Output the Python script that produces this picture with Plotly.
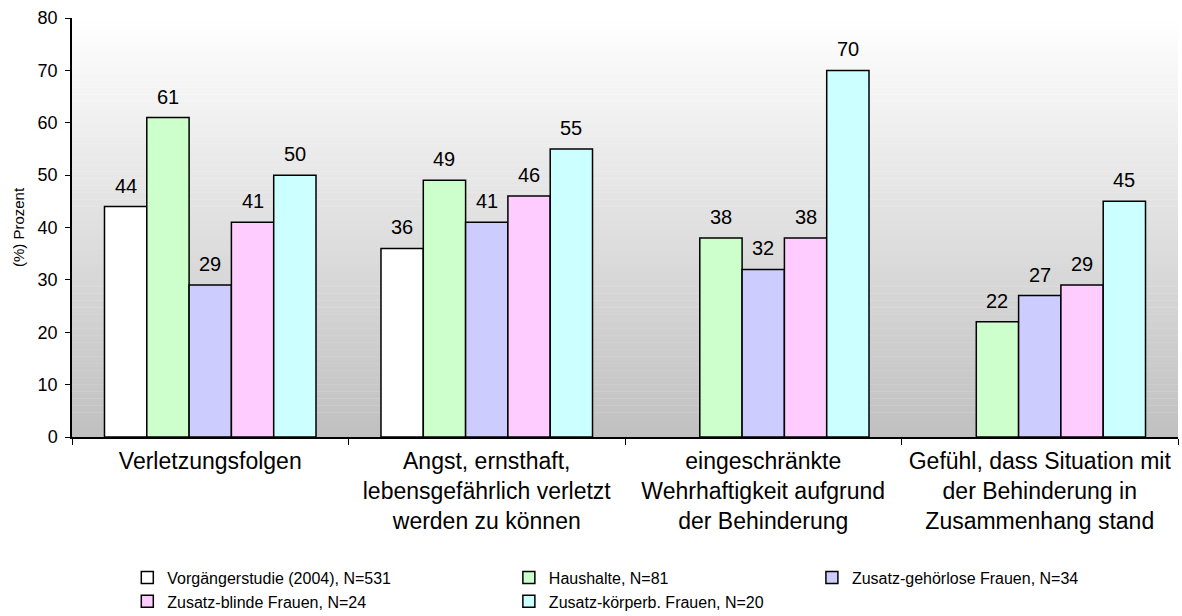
import plotly.graph_objects as go

# Kategorien (Achsenbeschriftung) und Werte je Stichprobe, in Prozent
categories = [
    "Verletzungsfolgen",
    "Angst, ernsthaft,<br>lebensgefährlich verletzt<br>werden zu können",
    "eingeschränkte<br>Wehrhaftigkeit aufgrund<br>der Behinderung",
    "Gefühl, dass Situation mit<br>der Behinderung in<br>Zusammenhang stand",
]

series_names = [
    "Vorgängerstudie (2004), N=531",
    "Haushalte, N=81",
    "Zusatz-gehörlose Frauen, N=34",
    "Zusatz-blinde Frauen, N=24",
    "Zusatz-körperb. Frauen, N=20",
]

vorgaenger = [44, 36, None, None]
haushalte = [61, 49, 38, 22]
gehoerlos = [29, 41, 32, 27]
blind = [41, 46, 38, 29]
koerperb = [50, 55, 70, 45]

series_values = [vorgaenger, haushalte, gehoerlos, blind, koerperb]
series_colors = ["#FFFFFF", "#CCFFCC", "#CCCCFF", "#FFCCFF", "#CCFFFF"]

y_ticks = [0, 10, 20, 30, 40, 50, 60, 70, 80]

FONT = "Arial, 'Liberation Sans', sans-serif"
BARGAP = 0.235

# Legenden-Spalten: Serie -> Legende
legend_of = ["legend", "legend2", "legend3", "legend", "legend2"]

fig = go.Figure()
for name, vals, col, lg in zip(series_names, series_values, series_colors, legend_of):
    fig.add_trace(go.Bar(
        x=categories,
        y=vals,
        name=name,
        marker=dict(color=col, line=dict(color="#000000", width=1.5)),
        legend=lg,
    ))

# Wertebeschriftungen über den Balken
n_series = len(series_values)
group_w = 1 - BARGAP
bar_w = group_w / n_series
annotations = []
for i, vals in enumerate(series_values):
    offset = -group_w / 2 + (i + 0.5) * bar_w
    for j, v in enumerate(vals):
        if v is None:
            continue
        annotations.append(dict(
            x=j + offset, y=v, xref="x", yref="y",
            text=str(v), showarrow=False,
            yanchor="bottom", xanchor="center", yshift=8,
            font=dict(family=FONT, size=20, color="#000000"),
        ))

# Hintergrundverlauf: oben weiß, unten grau
shapes = []
n_bands = 120
top = (255, 255, 255)
bottom = (192, 192, 192)
for k in range(n_bands):
    t = (k + 0.5) / n_bands
    c = tuple(round(bottom[m] + (top[m] - bottom[m]) * t) for m in range(3))
    shapes.append(dict(
        type="rect", xref="paper", yref="paper",
        x0=0, x1=1, y0=k / n_bands, y1=(k + 1) / n_bands + 0.001,
        fillcolor="rgb(%d,%d,%d)" % c, line=dict(width=0), layer="below",
    ))

legend_style = dict(
    orientation="v", yanchor="top", xanchor="left",
    font=dict(family=FONT, size=16, color="#000000"),
    bgcolor="rgba(0,0,0,0)", itemwidth=30, tracegroupgap=0,
)

fig.update_layout(
    width=1182, height=616,
    margin=dict(l=72, r=4, t=18, b=179, autoexpand=False),
    paper_bgcolor="#FFFFFF",
    plot_bgcolor="#FFFFFF",
    barmode="group",
    bargap=BARGAP,
    bargroupgap=0,
    font=dict(family=FONT, color="#000000"),
    shapes=shapes,
    annotations=annotations,
    legend=dict(x=0.05, y=-0.295, **legend_style),
    legend2=dict(x=0.395, y=-0.295, **legend_style),
    legend3=dict(x=0.669, y=-0.295, **legend_style),
    xaxis=dict(
        type="category",
        showline=True, linecolor="#000000", linewidth=1.5,
        ticks="outside", tickson="boundaries", ticklen=6, tickcolor="#000000",
        tickfont=dict(family=FONT, size=23, color="#000000"),
        ticklabelstandoff=3,
        showgrid=False,
    ),
    yaxis=dict(
        range=[0, 80], tickvals=y_ticks,
        showline=True, linecolor="#000000", linewidth=1.5,
        ticks="outside", ticklen=5, tickcolor="#000000",
        tickfont=dict(family=FONT, size=18, color="#000000"),
        ticklabelstandoff=4,
        showgrid=False, zeroline=False,
        title=dict(text="(%) Prozent", font=dict(family=FONT, size=15, color="#000000"), standoff=9),
    ),
)

fig.write_html("out.html")
